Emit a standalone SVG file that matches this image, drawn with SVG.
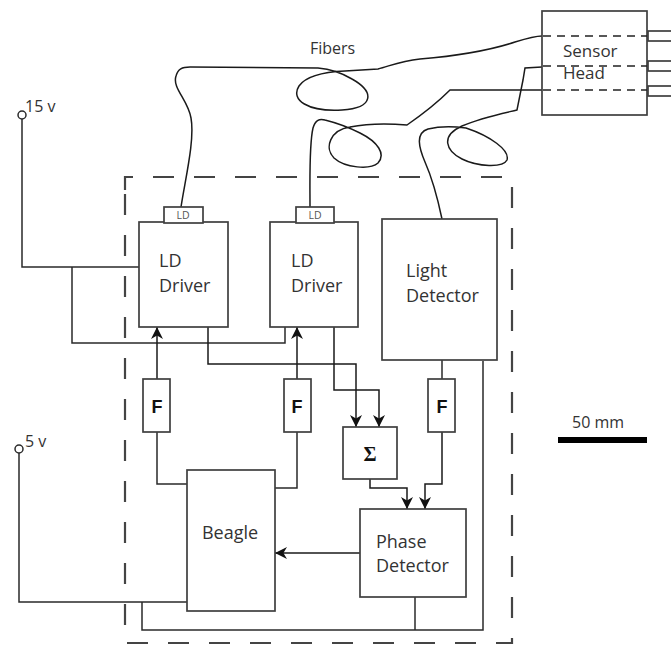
<svg xmlns="http://www.w3.org/2000/svg" width="671" height="648" viewBox="0 0 671 648">
<style>
.box{fill:#fff;stroke:#3f3f3f;stroke-width:1.7}
.ln{fill:none;stroke:#2a2a2a;stroke-width:1.5}
.fib{fill:none;stroke:#1a1a1a;stroke-width:1.5}
.arr{fill:none;stroke:#1a1a1a;stroke-width:1.5;marker-end:url(#ah)}
.border{fill:none;stroke:#444;stroke-width:2.2;stroke-dasharray:21 20}
.sh{fill:none;stroke:#222;stroke-width:1.5;stroke-dasharray:8 6}
.t{font-family:"Open Sans","Liberation Sans",sans-serif;font-size:18px;fill:#333}
.ts{font-family:"Open Sans","Liberation Sans",sans-serif;font-size:10.5px;fill:#555;text-anchor:middle}
.tb{font-family:"Liberation Sans",sans-serif;font-size:18px;font-weight:bold;fill:#111;text-anchor:middle}
.tv{font-family:"Open Sans","Liberation Sans",sans-serif;font-size:16px;fill:#333}
</style>
<defs>
<marker id="ah" viewBox="0 0 10 10" refX="10" refY="5" markerWidth="12" markerHeight="12" markerUnits="userSpaceOnUse" orient="auto">
<path d="M0,0 L10,5 L0,10 L3,5 z" fill="#111"/>
</marker>
</defs>

<g id="enclosure">
<path class="border" d="M125,190 L125,177 L512,177 L512,643 L125,643 L125,190"/>
</g>

<g id="connectors">
<polyline class="ln" points="22,119 22,267 139,267"/>
<polyline class="ln" points="72,267 72,343 285,343 285,327"/>
<line class="arr" x1="157" y1="379" x2="157" y2="327"/>
<line class="arr" x1="297" y1="379" x2="297" y2="327"/>
<polyline class="arr" points="208,327 208,364 356,364 356,427"/>
<polyline class="arr" points="334,327 334,390 379,390 379,427"/>
<line class="ln" x1="442" y1="360" x2="442" y2="379"/>
<polyline class="arr" points="442,432 442,484 425,484 425,509"/>
<polyline class="arr" points="370,479 370,488 407,488 407,509"/>
<polyline class="ln" points="187,484 157,484 157,432"/>
<polyline class="ln" points="275,488 297,488 297,432"/>
<line class="arr" x1="360" y1="553" x2="275" y2="553"/>
<polyline class="ln" points="19,453 19,602 187,602"/>
<polyline class="ln" points="142,602 142,630 483,630 483,361"/>
<line class="ln" x1="415" y1="597" x2="415" y2="630"/>
</g>

<g id="fibers">
<path class="fib" d="M181,207 C185,180 195,140 191,118 C188,100 172,88 176,76 C178,69 182,67 190,67 L318,68 C330,69 342,73 352,79 C375,92 374,108 342,110 C308,112 290,100 299,86 C306,76 322,72 345,71 L378,69 C390,66 400,61 420,59 C455,56 485,52 515,42 C528,38 535,36 542,36"/>
<path class="fib" d="M310,207 C310,180 309,145 313,128 C315,121 319,118 325,120 C337,123 348,127 360,133 C378,142 386,154 378,163 C370,170 345,168 334,158 C324,148 330,130 350,127 C365,124 385,123 407,125 C420,116 436,104 450,90 L542,90"/>
<path class="fib" d="M442,219 C438,200 433,180 425,162 C419,148 415,133 428,129 C440,126 452,126 466,128 C490,136 510,150 507,160 C503,168 478,167 462,159 C446,151 440,136 462,126 C480,118 500,114 517,110 L523,80 L525,68 L542,67"/>
</g>

<g id="sensor-head">
<rect class="box" x="542" y="11" width="105" height="104"/>
<line class="sh" x1="543" y1="36" x2="647" y2="36"/>
<line class="sh" x1="543" y1="66" x2="647" y2="66"/>
<line class="sh" x1="543" y1="90" x2="647" y2="90"/>
<rect class="box" x="648" y="31" width="24" height="10"/>
<rect class="box" x="648" y="61" width="24" height="10"/>
<rect class="box" x="648" y="86" width="24" height="10"/>
<text class="t" x="563" y="57" style="font-size:17px">Sensor</text>
<text class="t" x="563" y="79" style="font-size:17px">Head</text>
</g>

<g id="fibers-label">
<text class="tv" x="310" y="54">Fibers</text>
</g>

<g id="ld-driver-1">
<rect class="box" x="139" y="222" width="89" height="105"/>
<rect class="box" x="164" y="207" width="39" height="16"/>
<text class="ts" x="183" y="219">LD</text>
<text class="t" x="159" y="267">LD</text>
<text class="t" x="159" y="292">Driver</text>
</g>

<g id="ld-driver-2">
<rect class="box" x="270" y="222" width="88" height="105"/>
<rect class="box" x="296" y="207" width="38" height="16"/>
<text class="ts" x="315" y="219">LD</text>
<text class="t" x="291" y="267">LD</text>
<text class="t" x="291" y="292">Driver</text>
</g>

<g id="light-detector">
<rect class="box" x="382" y="219" width="115" height="141"/>
<text class="t" x="406" y="277">Light</text>
<text class="t" x="406" y="302">Detector</text>
</g>

<g id="filter-1">
<rect class="box" x="143" y="379" width="27" height="53"/>
<text class="tb" x="157" y="413">F</text>
</g>
<g id="filter-2">
<rect class="box" x="284" y="379" width="27" height="53"/>
<text class="tb" x="297" y="413">F</text>
</g>
<g id="filter-3">
<rect class="box" x="428" y="379" width="27" height="53"/>
<text class="tb" x="442" y="413">F</text>
</g>

<g id="sum">
<rect class="box" x="343" y="427" width="54" height="52"/>
<text x="370" y="461" style="font-family:'Liberation Serif',serif;font-size:20px;font-weight:bold;fill:#111;text-anchor:middle">Σ</text>
</g>

<g id="beagle">
<rect class="box" x="187" y="470" width="88" height="141"/>
<text class="t" x="230" y="539" text-anchor="middle">Beagle</text>
</g>

<g id="phase-detector">
<rect class="box" x="360" y="509" width="106" height="88"/>
<text class="t" x="376" y="548">Phase</text>
<text class="t" x="376" y="572">Detector</text>
</g>

<g id="supply-15v">
<circle cx="22" cy="115" r="4" fill="#fff" stroke="#2a2a2a" stroke-width="1.5"/>
<text class="tv" x="25" y="112">15 v</text>
</g>
<g id="supply-5v">
<circle cx="19" cy="449" r="4" fill="#fff" stroke="#2a2a2a" stroke-width="1.5"/>
<text class="tv" x="25" y="447">5 v</text>
</g>

<g id="scale-bar">
<rect x="558" y="437" width="89" height="6" fill="#000"/>
<text class="tv" x="572" y="428">50 mm</text>
</g>
</svg>
